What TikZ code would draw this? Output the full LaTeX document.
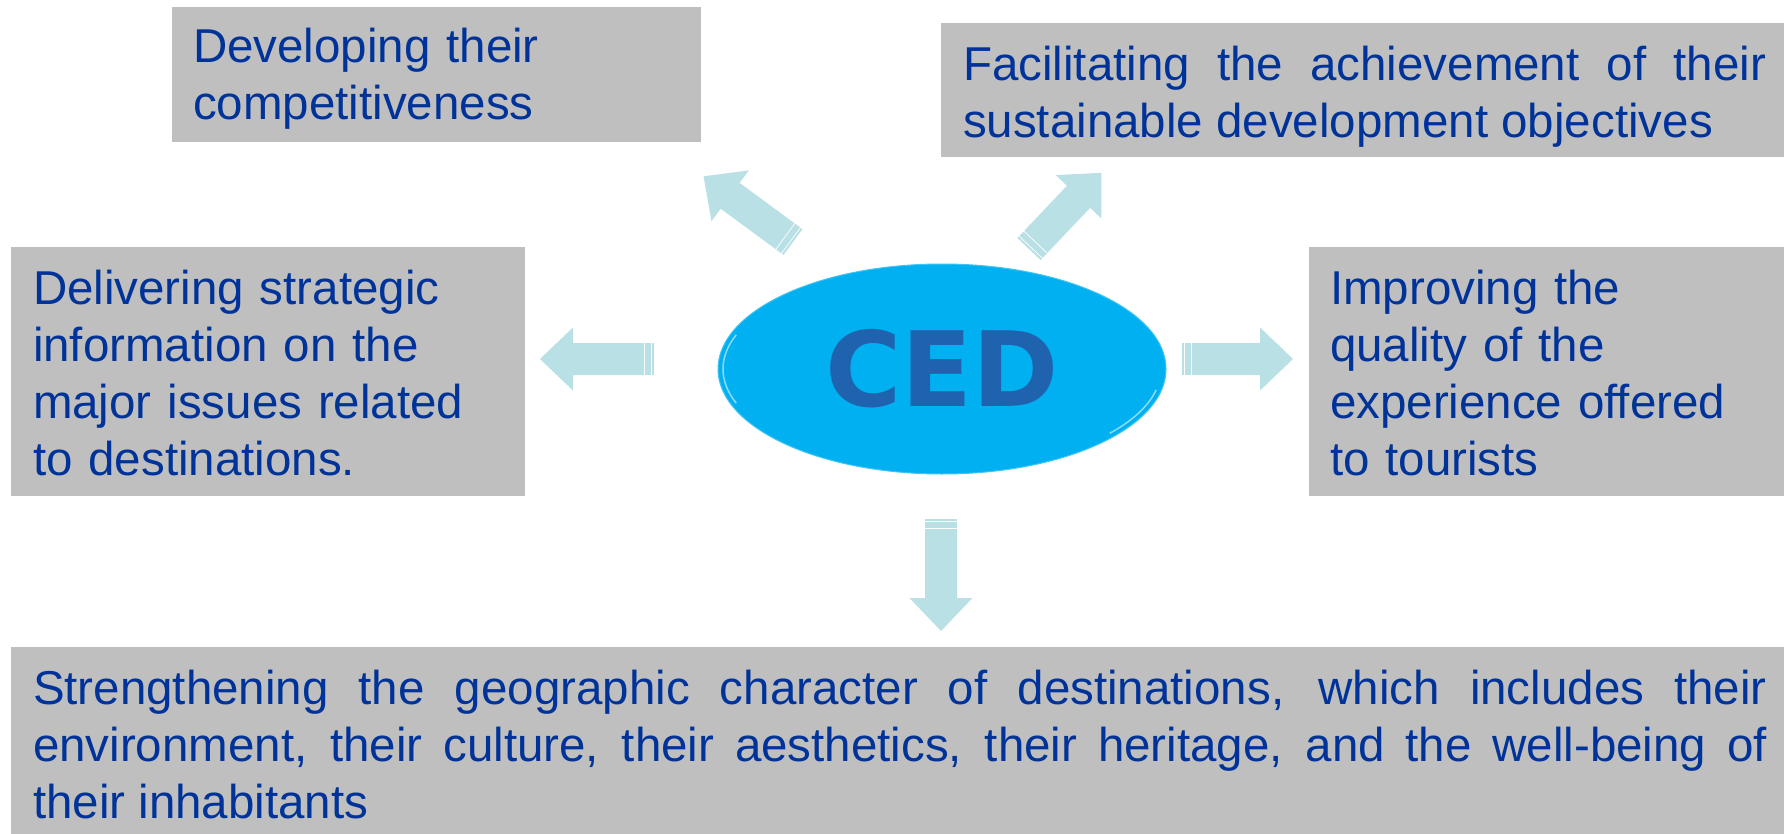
\documentclass[tikz,border=0pt]{standalone}
\usepackage{fontspec}
\setmainfont{Liberation Sans}
\newfontfamily\cedfont{DejaVu Sans}
\usetikzlibrary{shapes.geometric,calc}
\definecolor{boxgray}{HTML}{BFBFBF}
\definecolor{txtblue}{HTML}{003399}
\definecolor{arrowcol}{HTML}{B9E0E5}
\definecolor{cedfill}{HTML}{00B0F0}
\definecolor{cedtext}{HTML}{1F63AF}
\begin{document}
\begin{tikzpicture}[x=1pt,y=-1pt,
  graybox/.style={fill=boxgray, draw=none, anchor=north west, inner sep=0pt, outer sep=0pt},
  boxtext/.style={anchor=base west, inner sep=0pt, outer sep=0pt, text=txtblue,
    font=\fontsize{47.5}{57}\selectfont},
  pics/blockarr/.style={code={
    \fill[arrowcol] (0,-16) rectangle (2,16);
    \fill[arrowcol] (3,-16) rectangle (9,16);
    \fill[arrowcol] (10,-16) -- (#1-33,-16) -- (#1-33,-31.5) -- (#1,0)
      -- (#1-33,31.5) -- (#1-33,16) -- (10,16) -- cycle;
  }}]
\useasboundingbox[fill=white] (0,0) rectangle (1784,834);

% grey boxes
\node[graybox, minimum width=529pt, minimum height=135pt] (b1) at (172,7) {};
\node[graybox, minimum width=843pt, minimum height=134pt] (b2) at (941,23) {};
\node[graybox, minimum width=514pt, minimum height=249pt] (b3) at (11,247) {};
\node[graybox, minimum width=475pt, minimum height=249pt] (b4) at (1309,247) {};
\node[graybox, minimum width=1773pt, minimum height=187pt] (b5) at (11,647) {};

% texts
\node[boxtext, text width=500pt, align=left] (t1) at (193,63)
  {Developing their\\competitiveness};
\node[boxtext, text width=803pt, align=justify] (t2) at (963,81)
  {Facilitating the achievement of their\linebreak sustainable development objectives};
\node[boxtext, text width=480pt, align=left] (t3) at (33,304)
  {Delivering strategic\\information on the\\major issues related\\to destinations.};
\node[boxtext, text width=450pt, align=left] (t4) at (1330,304)
  {Improving the\\quality of the\\experience offered\\to tourists};
\node[boxtext, text width=1734pt, align=justify] (t5) at (33,704)
  {Strengthening the geographic character of destinations, which includes their\linebreak
   environment, their culture, their aesthetics, their heritage, and the well-being of\linebreak
   their inhabitants};

% central ellipse
\node[ellipse, fill=cedfill, draw=cedfill!75!white, line width=1pt,
  minimum width=448pt, minimum height=210pt, inner sep=0pt,
  text=cedtext, font=\cedfont\bfseries\fontsize{104}{104}\selectfont] (ced) at (942,369) {CED};
\draw[white, opacity=0.55, line width=1.5pt]
  ($(ced.center)+(160:219 and 100)$) arc[start angle=160, end angle=200, x radius=219, y radius=100];
\draw[white, opacity=0.55, line width=1.5pt]
  ($(ced.center)+(12:219 and 100)$) arc[start angle=12, end angle=40, x radius=219, y radius=100];

% block arrows
\coordinate (aL) at (654,359);
\coordinate (aR) at (1182,359);
\coordinate (aD) at (941,519);
\coordinate (aUL) at (793,242);
\coordinate (aUR) at (1029,249);
\pic[rotate=180] at (aL) {blockarr=114};
\pic at (aR) {blockarr=111};
\pic[rotate=-90] at (aD) {blockarr=112};
\pic[rotate=143.7] at (aUL) {blockarr=111};
\pic[rotate=46.5] at (aUR) {blockarr=105};
\end{tikzpicture}
\end{document}
